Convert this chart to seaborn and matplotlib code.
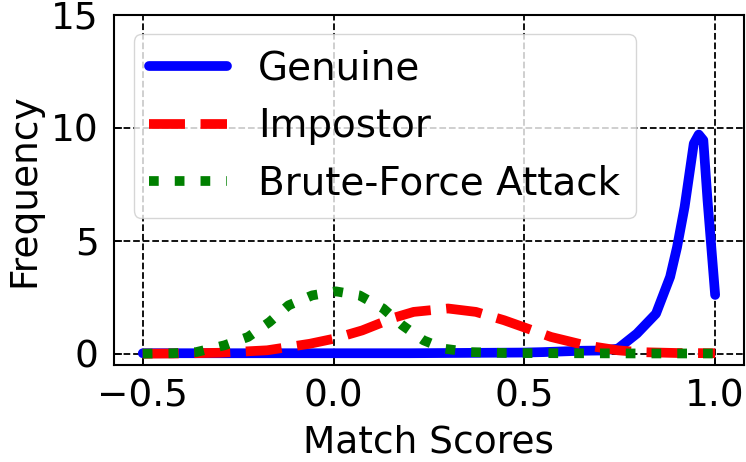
import matplotlib
matplotlib.use("Agg")
import matplotlib.pyplot as plt
import seaborn as sns
import pandas as pd

# values
genuine_x = [-0.5, -0.4, -0.3, -0.2, -0.1, 0.0, 0.1, 0.2, 0.3, 0.4, 0.5, 0.55,
             0.6, 0.65, 0.7, 0.745, 0.795, 0.845, 0.882, 0.9, 0.92, 0.944,
             0.957, 0.969, 0.98, 1.0]
genuine_y = [0.02, 0.02, 0.02, 0.02, 0.02, 0.02, 0.02, 0.02, 0.03, 0.04, 0.05,
             0.07, 0.1, 0.13, 0.14, 0.22, 0.89, 1.77, 3.4, 4.7, 6.5, 9.3,
             9.7, 9.45, 6.8, 2.6]

impostor_x = [-0.5, -0.4, -0.3, -0.174, -0.062, 0.0, 0.075, 0.16, 0.21, 0.3,
              0.373, 0.447, 0.497, 0.57, 0.66, 0.745, 0.8, 0.9, 1.0]
impostor_y = [0.0, 0.01, 0.04, 0.15, 0.44, 0.66, 1.03, 1.6, 1.85, 2.0,
              1.85, 1.48, 1.18, 0.74, 0.37, 0.15, 0.07, 0.03, 0.02]

brute_x = [-0.5, -0.42, -0.36, -0.286, -0.224, -0.168, -0.118, -0.056, 0.006,
           0.068, 0.13, 0.18, 0.236, 0.29, 0.36, 0.45, 0.6, 0.8, 1.0]
brute_y = [0.0, 0.02, 0.07, 0.37, 0.74, 1.4, 2.14, 2.58, 2.76,
           2.58, 2.0, 1.26, 0.59, 0.22, 0.07, 0.03, 0.02, 0.01, 0.01]

sns.set_style("whitegrid", {
    "grid.color": "black",
    "grid.linestyle": "--",
    "axes.edgecolor": "black",
    "axes.labelcolor": "black",
    "text.color": "black",
    "xtick.color": "black",
    "ytick.color": "black",
    "xtick.direction": "in",
    "ytick.direction": "in",
    "xtick.bottom": True,
    "ytick.left": True,
})
plt.rcParams["font.family"] = ["DejaVu Sans"]

fig, ax = plt.subplots(figsize=(7.46, 4.62), dpi=100)

series = [
    ("Genuine", genuine_x, genuine_y, "blue", "-"),
    ("Impostor", impostor_x, impostor_y, "red", "--"),
    ("Brute-Force Attack", brute_x, brute_y, "green", ":"),
]
for name, xs, ys, col, ls in series:
    df = pd.DataFrame({"score": xs, "freq": ys})
    sns.lineplot(data=df, x="score", y="freq", color=col, linestyle=ls,
                 linewidth=7, label=name, ax=ax)

ax.set_ylim(-0.5, 15)
ax.set_yticks([0, 5, 10, 15])
ax.set_xticks([-0.5, 0.0, 0.5, 1.0])
ax.grid(True, color="black", linestyle="--", linewidth=1.3)
for sp in ax.spines.values():
    sp.set_linewidth(1.5)
    sp.set_color("black")
ax.tick_params(labelsize=27, length=6, width=1.2)
ax.tick_params(axis="x", pad=10)
ax.tick_params(axis="y", pad=11)
ax.set_xlabel("Match Scores", fontsize=27, labelpad=7)
ax.set_ylabel("Frequency", fontsize=27, labelpad=6)
ax.legend(loc="upper left", fontsize=28, framealpha=0.8)

plt.subplots_adjust(left=0.153, right=0.997, top=0.968, bottom=0.21)
fig.savefig("out.png", dpi=100)
